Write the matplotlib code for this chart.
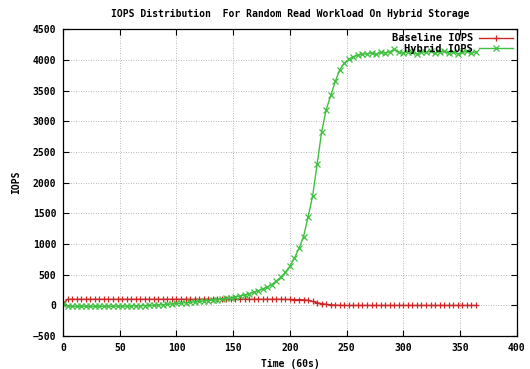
import matplotlib
matplotlib.use('Agg')
import matplotlib.pyplot as plt

plt.rcParams['font.family'] = ['DejaVu Sans Mono']
plt.rcParams['font.weight'] = 'bold'
plt.rcParams['font.size'] = 7

# time axis (minutes)
minutes = [0, 4, 8, 12, 16, 20, 24, 28, 32, 36, 40, 44, 48, 52, 56, 60, 64, 68, 72, 76,
           80, 84, 88, 92, 96, 100, 104, 108, 112, 116, 120, 124, 128, 132, 136, 140, 144, 148, 152, 156,
           160, 164, 168, 172, 176, 180, 184, 188, 192, 196, 200, 204, 208, 212, 216, 220, 224, 228, 232, 236,
           240, 244, 248, 252, 256, 260, 264, 268, 272, 276, 280, 284, 288, 292, 296, 300, 304, 308, 312, 316,
           320, 324, 328, 332, 336, 340, 344, 348, 352, 356, 360, 364]

baseline_iops = [30, 100, 100, 100, 100, 100, 100, 100, 100, 100, 100, 100, 100, 100, 100, 100, 100, 100, 100, 100,
                 100, 100, 100, 100, 100, 100, 100, 100, 100, 100, 100, 100, 100, 100, 100, 100, 100, 100, 100, 100,
                 100, 100, 100, 100, 100, 100, 100, 100, 100, 98, 98, 95, 95, 92, 85, 65, 45, 30, 18, 10,
                 5, 2, 0, 0, 0, 0, 0, 0, 0, 0, 0, 0, 0, 0, 0, 0, 0, 0, 0, 0,
                 0, 0, 0, 0, 0, 0, 0, 0, 0, 0, 0, 0]

hybrid_iops = [30, -10, -15, -15, -15, -15, -15, -15, -15, -15, -15, -15, -12, -12, -10, -10, -8, -5, -3, 0,
               3, 8, 12, 18, 25, 32, 38, 45, 52, 58, 65, 72, 80, 88, 96, 105, 115, 126, 140, 155,
               170, 190, 215, 240, 270, 300, 340, 400, 460, 540, 640, 770, 930, 1120, 1440, 1780, 2300, 2830, 3190, 3420,
               3650, 3840, 3950, 4010, 4050, 4080, 4090, 4100, 4110, 4090, 4120, 4110, 4130, 4170, 4120, 4110, 4130, 4120, 4100, 4130,
               4120, 4140, 4110, 4130, 4140, 4110, 4130, 4100, 4120, 4140, 4110, 4130]

fig = plt.figure(figsize=(5.3, 3.69), dpi=100)
ax = fig.add_axes([0.119, 0.089, 0.856, 0.832])

ax.plot(minutes, baseline_iops, color='#cc2828', linewidth=1, marker='+', markersize=5,
        markeredgewidth=0.9, label='Baseline IOPS')
ax.plot(minutes, hybrid_iops, color='#40c040', linewidth=1, marker='x', markersize=4,
        markeredgewidth=0.9, label='Hybrid IOPS')

ax.set_xlim(0, 400)
ax.set_ylim(-500, 4500)
ax.set_xticks(range(0, 401, 50))
ax.set_yticks(range(-500, 4501, 500))
ax.tick_params(direction='in', top=True, right=True, length=4, width=0.8, pad=5, labelsize=7)
ax.grid(True, linestyle=(0, (1, 2)), color='#a0a0a0', linewidth=0.6)
for s in ax.spines.values():
    s.set_linewidth(0.9)

ax.set_title('IOPS Distribution  For Random Read Workload On Hybrid Storage', fontsize=7,
             fontweight='bold', pad=9)
ax.set_xlabel('Time (60s)', fontsize=7, fontweight='bold', labelpad=4)
ax.set_ylabel('IOPS', fontsize=7, fontweight='bold', labelpad=8)

leg = ax.legend(loc='upper right', frameon=False, markerfirst=False, fontsize=7.5,
                handlelength=3.2, borderaxespad=0.0, labelspacing=0.05, handletextpad=0.6)

fig.savefig('out.png', dpi=100)
